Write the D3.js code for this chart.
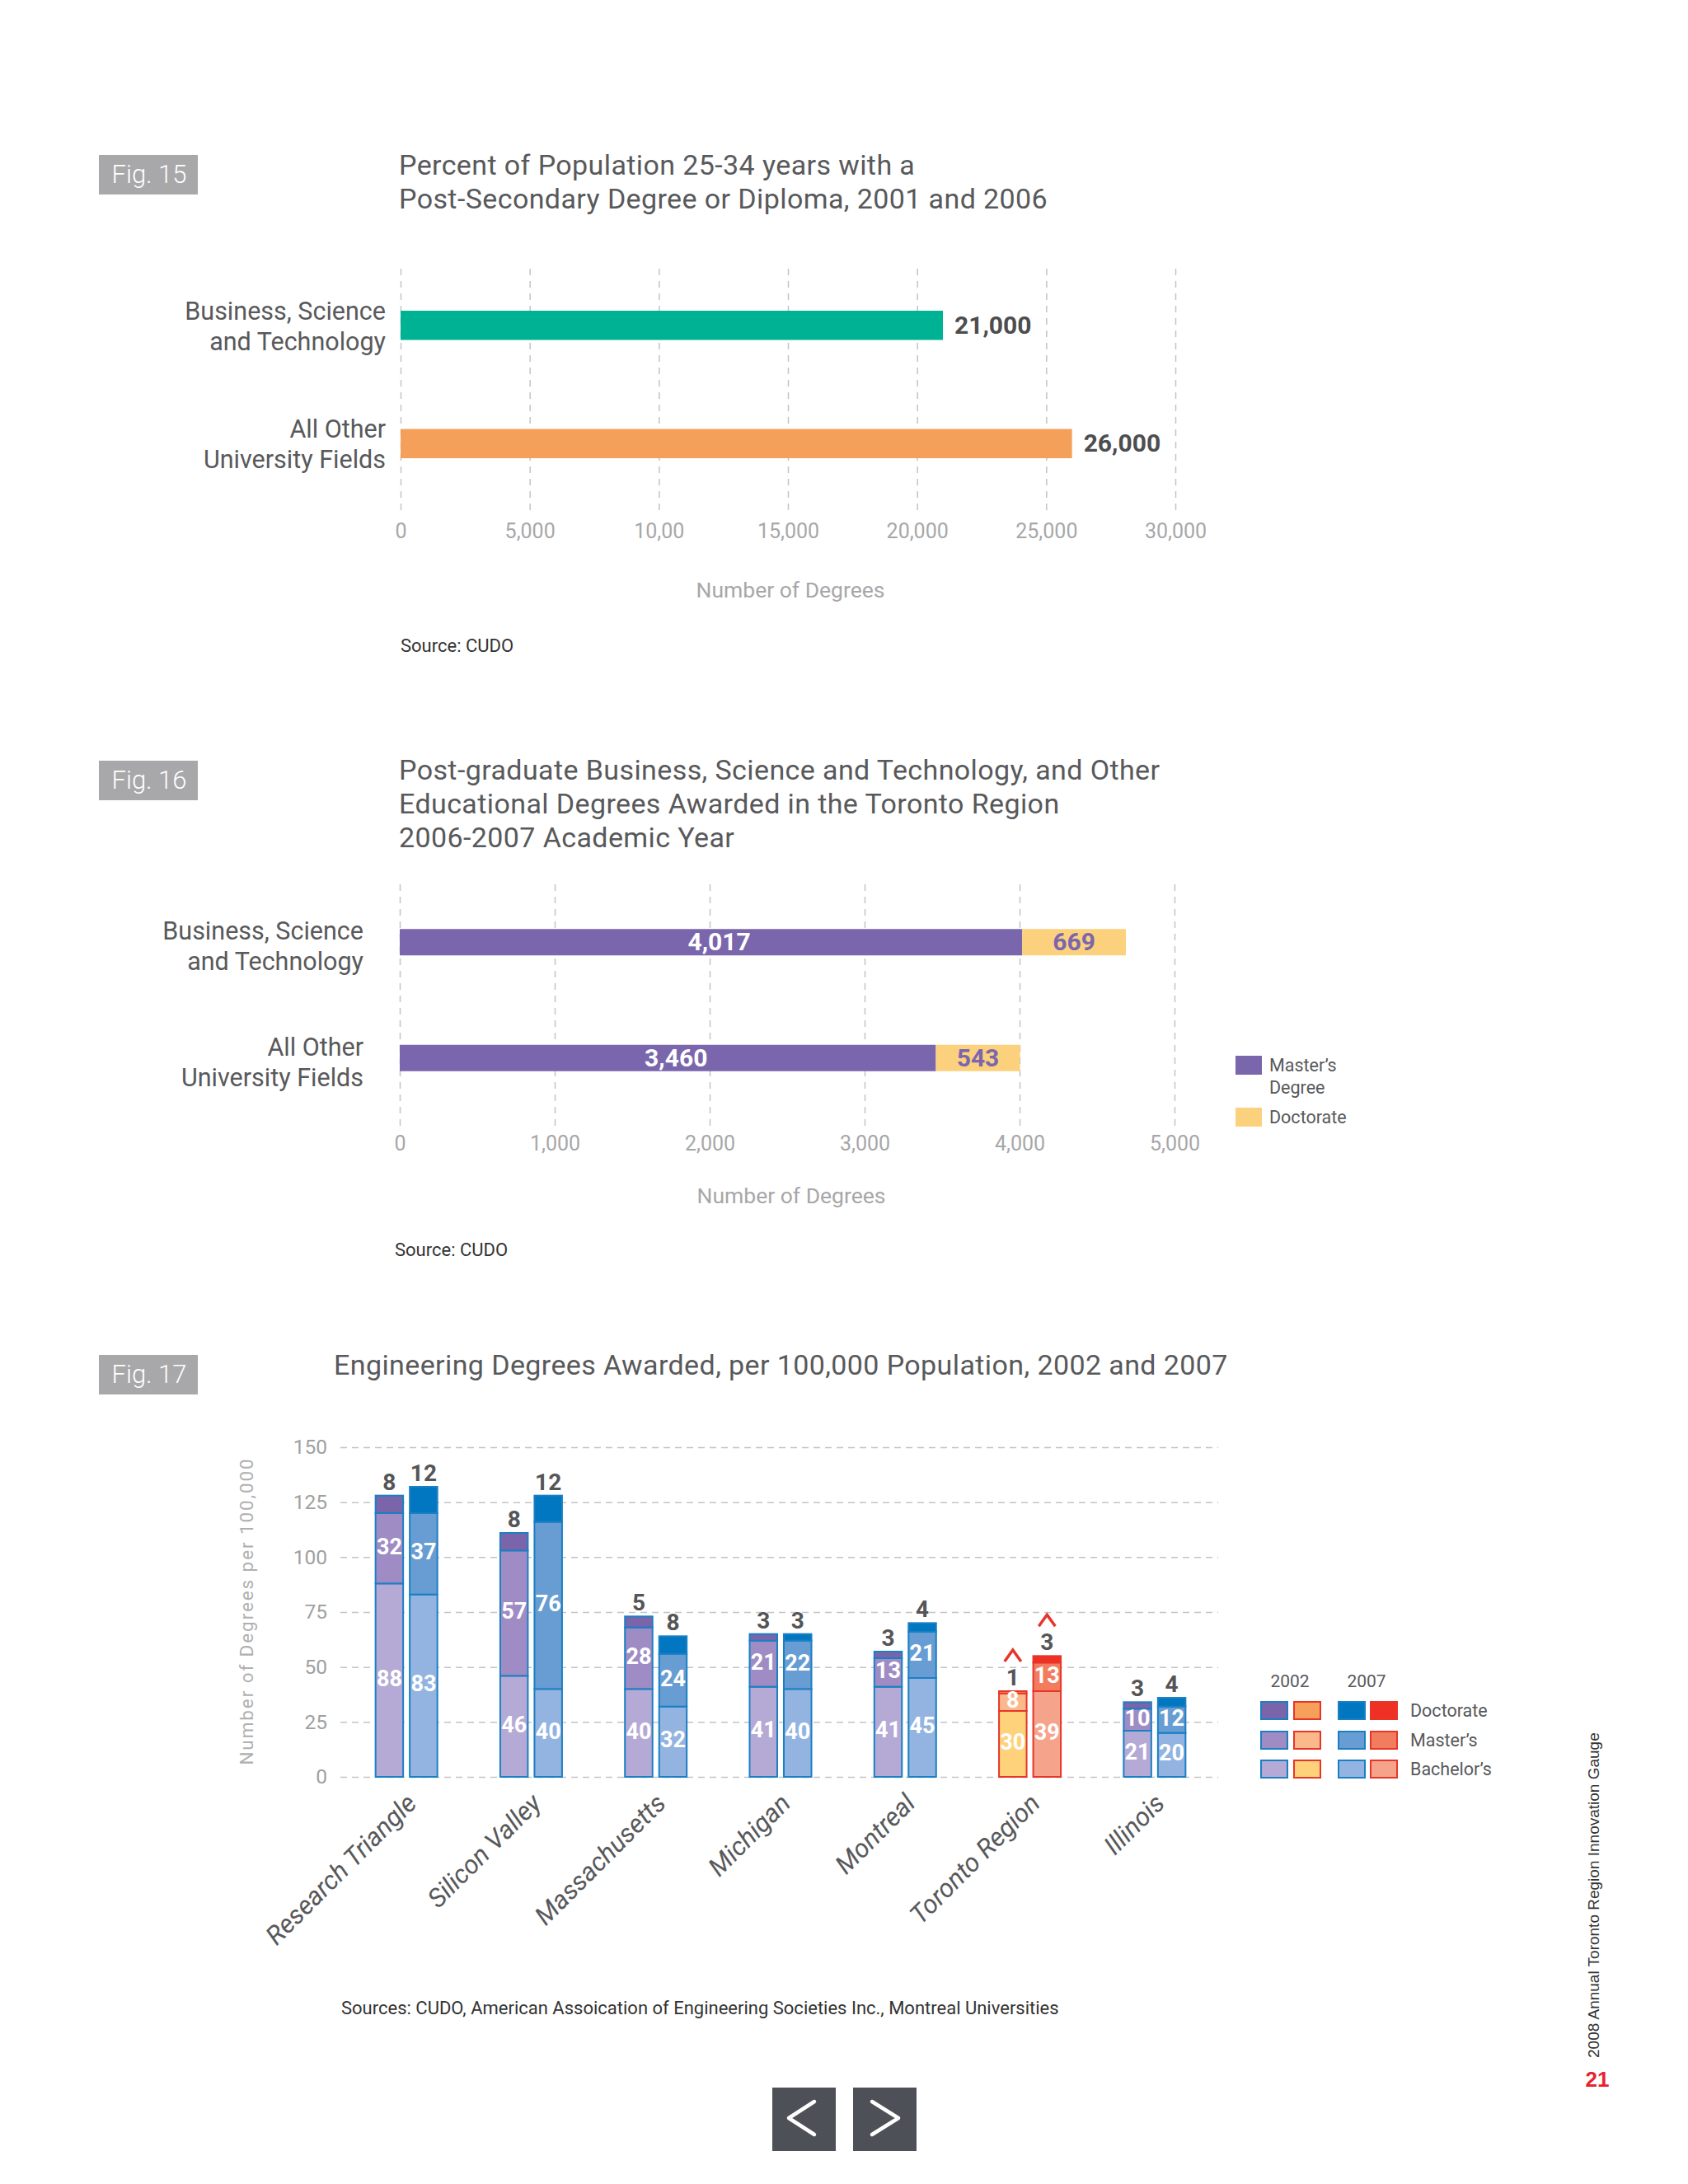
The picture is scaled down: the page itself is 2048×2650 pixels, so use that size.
<!DOCTYPE html>
<html>
<head>
<meta charset="utf-8">
<script src="https://cdn.jsdelivr.net/npm/d3@7"></script>
<style>
  body { margin: 0; background: #fff; }
  svg text { font-family: Roboto, "Open Sans", sans-serif; }
</style>
</head>
<body>
<div id="chart"></div>
<script>
// ---- Fig. 15 ----
var fig15Categories = [["Business, Science", "and Technology"], ["All Other", "University Fields"]];
var fig15Values = [21000, 26000];
var fig15Colors = ["#00b294", "#f5a05a"];
var fig15Ticks = [0, 5000, 10000, 15000, 20000, 25000, 30000];
var fig15TickLabels = ["0", "5,000", "10,00", "15,000", "20,000", "25,000", "30,000"];

// ---- Fig. 16 ----
var fig16Categories = [["Business, Science", "and Technology"], ["All Other", "University Fields"]];
var fig16Masters = [4017, 3460];
var fig16Doctorate = [669, 543];
var fig16Ticks = [0, 1000, 2000, 3000, 4000, 5000];
var fig16TickLabels = ["0", "1,000", "2,000", "3,000", "4,000", "5,000"];

// ---- Fig. 17 ----
var regions = ["Research Triangle", "Silicon Valley", "Massachusetts", "Michigan", "Montreal", "Toronto Region", "Illinois"];
var years = ["2002", "2007"];
var levels = ["bachelor", "master", "doctorate"];
var bachelor2002 = [88, 46, 40, 41, 41, 30, 21];
var master2002 = [32, 57, 28, 21, 13, 8, 10];
var doctorate2002 = [8, 8, 5, 3, 3, 1, 3];
var bachelor2007 = [83, 40, 32, 40, 45, 39, 20];
var master2007 = [37, 76, 24, 22, 21, 13, 12];
var doctorate2007 = [12, 12, 8, 3, 4, 3, 4];
var fig17Ticks = [0, 25, 50, 75, 100, 125, 150];
var highlightRegion = "Toronto Region";

var palette = {
  "2002": { doctorate: "#7a64aa", master: "#9f8cc4", bachelor: "#b5a9d5", stroke: "#1b7fc4" },
  "2007": { doctorate: "#0077c0", master: "#679dd3", bachelor: "#93b4e1", stroke: "#1b7fc4" },
  "2002h": { doctorate: "#f6a05a", master: "#f9b98b", bachelor: "#fed27b", stroke: "#e8352a" },
  "2007h": { doctorate: "#ee3124", master: "#f27c5e", bachelor: "#f5a48b", stroke: "#e8352a" }
};

var width = 2048, height = 2650;
var textDark = "#58595b", textGray = "#a7a7a9";

var svg = d3.select('#chart')
  .append('svg')
  .attr('width', width)
  .attr('height', height);

svg.append('rect').attr('width', width).attr('height', height).attr('fill', '#fff');

function figBox(y, label) {
  svg.append('rect')
    .attr('x', 120).attr('y', y).attr('width', 120).attr('height', 48)
    .attr('fill', '#a8a8aa');
  svg.append('text')
    .attr('x', 181).attr('y', y + 34)
    .attr('text-anchor', 'middle')
    .attr('fill', '#fff')
    .style('font-size', '31px').style('font-weight', 300)
    .text(label);
}

function title(x, y, lines) {
  var t = svg.append('text').attr('x', x).attr('y', y)
    .attr('fill', textDark).style('font-size', '34px').style('letter-spacing', '0.4px');
  lines.forEach(function (l, i) {
    t.append('tspan').attr('x', x).attr('dy', i ? 41 : 0).text(l);
  });
}

function vGrid(x, top, bottom, ticks, labels, pad) {
  var axis = d3.axisBottom(x)
    .tickValues(ticks)
    .tickFormat(function (d, i) { return labels[i] })
    .tickSize(-(bottom - top))
    .tickPadding(pad);
  var g = svg.append('g').attr('transform', 'translate(0,' + bottom + ')').call(axis);
  g.select('.domain').remove();
  g.selectAll('line').attr('stroke', '#c4c4c4').attr('stroke-width', 1.5).attr('stroke-dasharray', '8,7');
  g.selectAll('text').attr('fill', textGray).style('font-size', '25px').style('font-family', 'Roboto');
}

function catLabels(y, cats, xRight, off) {
  svg.selectAll(null)
    .data(cats)
    .enter().append('text')
    .attr('text-anchor', 'end')
    .attr('fill', textDark)
    .style('font-size', '30.5px')
    .each(function (d, i) {
      var t = d3.select(this);
      d.forEach(function (line, j) {
        t.append('tspan').attr('x', xRight).attr('y', y(i) + off[j]).text(line);
      });
    });
}

// ================= Fig. 15 =================
figBox(188, 'Fig. 15');
title(484, 212, ['Percent of Population 25-34 years with a', 'Post-Secondary Degree or Diploma, 2001 and 2006']);

var x15 = d3.scaleLinear().domain([0, 30000]).range([486, 1426]);
var y15 = d3.scalePoint().domain([0, 1]).range([323, 610]).padding(0.5);

vGrid(x15, 324, 619, fig15Ticks, fig15TickLabels, 16);

svg.selectAll('.bar15')
  .data(fig15Values)
  .enter().append('rect')
  .attr('class', 'bar15')
  .attr('x', x15(0))
  .attr('y', function (d, i) { return y15(i) - 17.75 })
  .attr('width', function (d) { return x15(d) - x15(0) })
  .attr('height', 35.5)
  .attr('fill', function (d, i) { return fig15Colors[i] });

svg.selectAll('.val15')
  .data(fig15Values)
  .enter().append('text')
  .attr('class', 'val15')
  .attr('x', function (d) { return x15(d) + 14 })
  .attr('y', function (d, i) { return y15(i) + 10 })
  .attr('fill', '#4d4d4f')
  .style('font-size', '30px').style('font-weight', 700)
  .text(function (d) { return d3.format(',')(d) });

catLabels(y15, fig15Categories, 468, [-7, 30]);

svg.append('text').attr('x', 959).attr('y', 725).attr('text-anchor', 'middle')
  .attr('fill', textGray).style('font-size', '26.5px').text('Number of Degrees');
svg.append('text').attr('x', 486).attr('y', 791)
  .attr('fill', '#333').style('font-size', '22px').text('Source: CUDO');

// ================= Fig. 16 =================
figBox(923, 'Fig. 16');
title(484, 946, ['Post-graduate Business, Science and Technology, and Other',
  'Educational Degrees Awarded in the Toronto Region', '2006-2007 Academic Year']);

var x16 = d3.scaleLinear().domain([0, 5000]).range([485, 1425]);
var y16 = d3.scalePoint().domain([0, 1]).range([1073, 1354]).padding(0.5);

vGrid(x16, 1072, 1366, fig16Ticks, fig16TickLabels, 12);

var bar16 = svg.selectAll('.bar16')
  .data(fig16Masters)
  .enter().append('g').attr('class', 'bar16');

bar16.append('rect')
  .attr('x', x16(0))
  .attr('y', function (d, i) { return y16(i) - 16 })
  .attr('width', function (d) { return x16(d) - x16(0) })
  .attr('height', 32)
  .attr('fill', '#7a66ad');
bar16.append('rect')
  .attr('x', function (d) { return x16(d) })
  .attr('y', function (d, i) { return y16(i) - 16 })
  .attr('width', function (d, i) { return x16(d + fig16Doctorate[i]) - x16(d) })
  .attr('height', 32)
  .attr('fill', '#fcd17d');
bar16.append('text')
  .attr('x', function (d) { return (x16(0) + x16(d)) / 2 + 10 })
  .attr('y', function (d, i) { return y16(i) + 10 })
  .attr('text-anchor', 'middle')
  .attr('fill', '#fff')
  .style('font-size', '30px').style('font-weight', 700)
  .text(function (d) { return d3.format(',')(d) });
bar16.append('text')
  .attr('x', function (d, i) { return (x16(d) + x16(d + fig16Doctorate[i])) / 2 })
  .attr('y', function (d, i) { return y16(i) + 10 })
  .attr('text-anchor', 'middle')
  .attr('fill', '#7a66ad')
  .style('font-size', '30px').style('font-weight', 700)
  .text(function (d, i) { return fig16Doctorate[i] });

catLabels(y16, fig16Categories, 441, [-3, 34]);

// legend
svg.append('rect').attr('x', 1499).attr('y', 1281).attr('width', 32).attr('height', 23).attr('fill', '#7a66ad');
svg.append('rect').attr('x', 1499).attr('y', 1344).attr('width', 32).attr('height', 23).attr('fill', '#fcd17d');
var leg16 = svg.append('text').attr('fill', textDark).style('font-size', '21.5px');
leg16.append('tspan').attr('x', 1540).attr('y', 1300).text('Master’s');
leg16.append('tspan').attr('x', 1540).attr('y', 1327).text('Degree');
svg.append('text').attr('x', 1540).attr('y', 1363).attr('fill', textDark).style('font-size', '21.5px').text('Doctorate');

svg.append('text').attr('x', 960).attr('y', 1460).attr('text-anchor', 'middle')
  .attr('fill', textGray).style('font-size', '26.5px').text('Number of Degrees');
svg.append('text').attr('x', 479).attr('y', 1524)
  .attr('fill', '#333').style('font-size', '22px').text('Source: CUDO');

// ================= Fig. 17 =================
figBox(1644, 'Fig. 17');
title(405, 1668, ['Engineering Degrees Awarded, per 100,000 Population, 2002 and 2007']);

var x17 = d3.scaleBand().domain(regions).range([417.5, 1476.5]);
var xYear = d3.scaleBand().domain(years).range([-37.5, 37.5]).paddingInner(0.193);
var y17 = d3.scaleLinear().domain([0, 150]).range([2156, 1756]);

var yAxis = d3.axisLeft(y17).tickValues(fig17Ticks).tickSize(-1065).tickPadding(16);
var gy = svg.append('g').attr('transform', 'translate(413,0)').call(yAxis);
gy.select('.domain').remove();
gy.selectAll('line').attr('stroke', '#c4c4c4').attr('stroke-width', 1.5).attr('stroke-dasharray', '8,6');
gy.selectAll('text').attr('fill', '#a0a0a0').style('font-size', '24.5px').style('font-family', 'Roboto');

svg.append('text')
  .attr('transform', 'translate(307,1955) rotate(-90)')
  .attr('text-anchor', 'middle')
  .attr('fill', '#b0b0b0')
  .style('font-size', '22.5px').style('letter-spacing', '1.9px')
  .text('Number of Degrees per 100,000');

var yearData = {
  "2002": [bachelor2002, master2002, doctorate2002],
  "2007": [bachelor2007, master2007, doctorate2007]
};

function colorsFor(region, year) {
  return palette[year + (region === highlightRegion ? 'h' : '')];
}

years.forEach(function (year) {
  var table = regions.map(function (r, i) {
    return {
      region: r,
      bachelor: yearData[year][0][i],
      master: yearData[year][1][i],
      doctorate: yearData[year][2][i]
    };
  });
  var series = d3.stack().keys(levels)(table);
  var bw = xYear.bandwidth();
  function bx(d) { return x17(d.data.region) + x17.bandwidth() / 2 + xYear(year) }

  var layer = svg.append('g').selectAll('g')
    .data(series)
    .enter().append('g');

  layer.selectAll('rect')
    .data(function (s) { return s.map(function (d) { d.key = s.key; return d }) })
    .enter().append('rect')
    .attr('x', bx)
    .attr('y', function (d) { return y17(d[1]) })
    .attr('width', bw)
    .attr('height', function (d) { return y17(d[0]) - y17(d[1]) })
    .attr('fill', function (d) { return colorsFor(d.data.region, year)[d.key] })
    .attr('stroke', function (d) { return colorsFor(d.data.region, year).stroke })
    .attr('stroke-width', 2);

  // values inside bachelor and master segments
  series.slice(0, 2).forEach(function (s) {
    svg.append('g').selectAll('text')
      .data(s)
      .enter().append('text')
      .attr('x', function (d) { return bx(d) + bw / 2 })
      .attr('y', function (d) { return (y17(d[0]) + y17(d[1])) / 2 + 7 })
      .attr('text-anchor', 'middle')
      .attr('fill', '#fff')
      .style('font-size', '27px').style('font-weight', 700)
      .text(function (d) { return d.data[s.key] });
  });

  // doctorate values above bars
  var top = series[2];
  svg.append('g').selectAll('text')
    .data(top)
    .enter().append('text')
    .attr('x', function (d) { return bx(d) + bw / 2 })
    .attr('y', function (d) { return y17(d[1]) - 7 })
    .attr('text-anchor', 'middle')
    .attr('fill', '#555557')
    .style('font-size', '28px').style('font-weight', 700)
    .text(function (d) { return d.data.doctorate });

  // caret over the highlighted region
  svg.append('g').selectAll('path')
    .data(top.filter(function (d) { return d.data.region === highlightRegion }))
    .enter().append('path')
    .attr('d', function (d) {
      var cx = bx(d) + bw / 2, cy = y17(d[1]) - 7 - 36;
      return 'M' + (cx - 10) + ',' + (cy + 7) + 'L' + cx + ',' + (cy - 7) + 'L' + (cx + 10) + ',' + (cy + 7);
    })
    .attr('fill', 'none')
    .attr('stroke', '#e8352a')
    .attr('stroke-width', 3.5);
});

// region labels
svg.append('g').selectAll('text')
  .data(regions)
  .enter().append('text')
  .attr('transform', function (d) {
    return 'translate(' + (x17(d) + x17.bandwidth() / 2 + 14) + ',2190) rotate(-45)';
  })
  .attr('text-anchor', 'end')
  .attr('fill', textDark)
  .style('font-size', '31.5px').style('font-style', 'italic')
  .text(function (d) { return d });

// legend
var legCols = [
  { key: '2002', x: 1529 }, { key: '2002h', x: 1569 },
  { key: '2007', x: 1623 }, { key: '2007h', x: 1662 }
];
var legRows = [
  { level: 'doctorate', label: 'Doctorate', y: 2064 },
  { level: 'master', label: 'Master’s', y: 2100 },
  { level: 'bachelor', label: 'Bachelor’s', y: 2135 }
];
svg.append('text').attr('x', 1565).attr('y', 2047).attr('text-anchor', 'middle')
  .attr('fill', textDark).style('font-size', '21px').text(years[0]);
svg.append('text').attr('x', 1658).attr('y', 2047).attr('text-anchor', 'middle')
  .attr('fill', textDark).style('font-size', '21px').text(years[1]);

legRows.forEach(function (r) {
  legCols.forEach(function (c) {
    svg.append('rect')
      .attr('x', c.x + 1).attr('y', r.y + 1).attr('width', 32).attr('height', 21)
      .attr('fill', palette[c.key][r.level])
      .attr('stroke', palette[c.key].stroke).attr('stroke-width', 2);
  });
  svg.append('text').attr('x', 1711).attr('y', r.y + 19)
    .attr('fill', textDark).style('font-size', '21.5px').text(r.label);
});

svg.append('text').attr('x', 414).attr('y', 2444)
  .attr('fill', '#333').style('font-size', '22px')
  .text('Sources: CUDO, American Assoication of Engineering Societies Inc., Montreal Universities');

// ---- page furniture ----
svg.append('text')
  .attr('transform', 'translate(1940,2497) rotate(-90)')
  .attr('fill', '#333')
  .style('font-family', '"Liberation Sans", Arial, sans-serif')
  .style('font-size', '19px')
  .text('2008 Annual Toronto Region Innovation Gauge');
svg.append('text')
  .attr('x', 1938).attr('y', 2532).attr('text-anchor', 'middle')
  .attr('fill', '#e8232f')
  .style('font-family', '"Liberation Sans", Arial, sans-serif')
  .style('font-size', '26px').style('font-weight', 700)
  .text('21');

[{ x: 937, d: 'M988,2550L957,2570L988,2590' }, { x: 1035, d: 'M1058,2550L1090,2570L1058,2590' }]
  .forEach(function (b) {
    svg.append('rect').attr('x', b.x).attr('y', 2533).attr('width', 77).attr('height', 77).attr('fill', '#4e5057');
    svg.append('path').attr('d', b.d).attr('fill', 'none').attr('stroke', '#fff')
      .attr('stroke-width', 4.5).attr('stroke-linecap', 'round').attr('stroke-linejoin', 'round');
  });
</script>
</body>
</html>
